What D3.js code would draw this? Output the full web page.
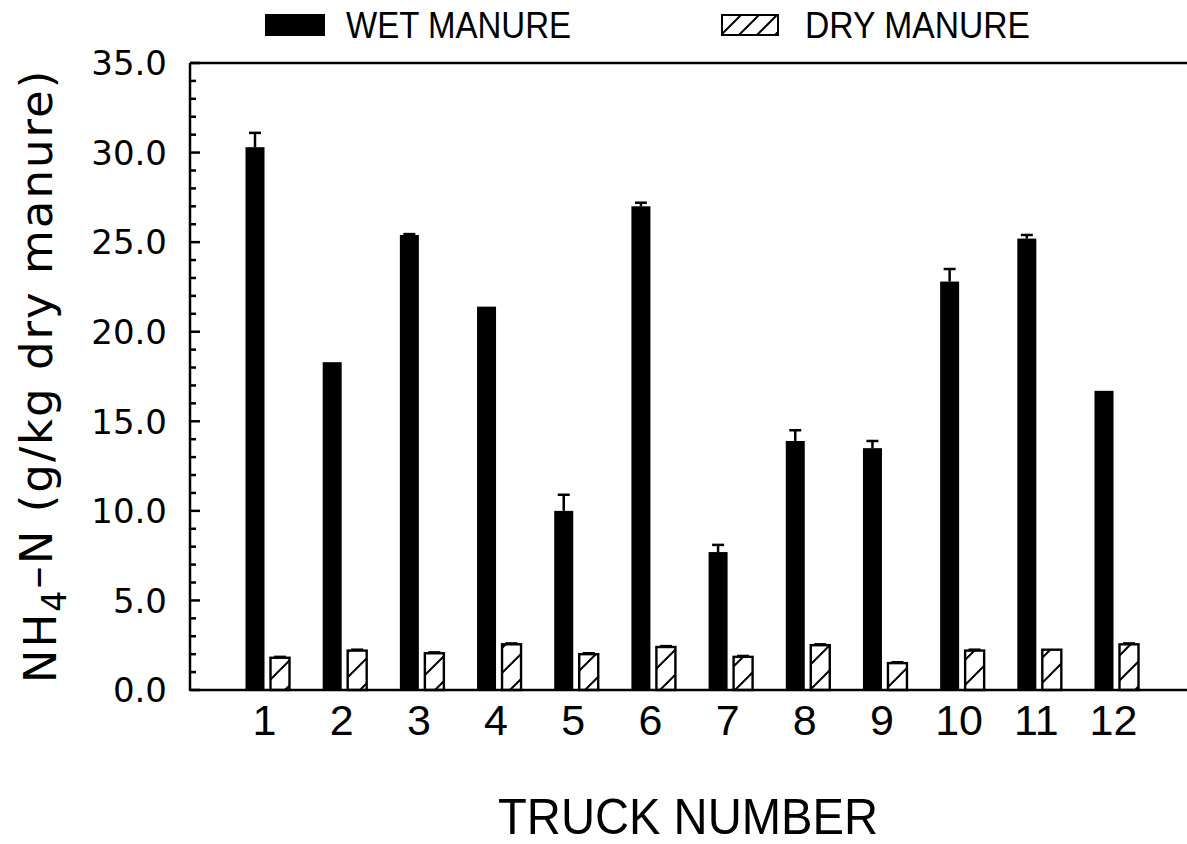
<!DOCTYPE html>
<html>
<head>
<meta charset="utf-8">
<script src="https://cdn.jsdelivr.net/npm/d3@7"></script>
<style>
    body { margin: 0; background: #ffffff; }
    svg { display: block; }
</style>
</head>
<body>
<svg id="chart" width="1187" height="844"></svg>
<script>
// Values.
var trucks = [1, 2, 3, 4, 5, 6, 7, 8, 9, 10, 11, 12];
var wetManure = [30.3, 18.3, 25.4, 21.4, 10.0, 27.0, 7.7, 13.9, 13.5, 22.8, 25.2, 16.7];
var wetError = [0.8, 0, 0.05, 0, 0.9, 0.2, 0.4, 0.6, 0.4, 0.7, 0.2, 0];
var dryManure = [1.8, 2.2, 2.05, 2.55, 2.0, 2.4, 1.85, 2.5, 1.5, 2.2, 2.25, 2.55];
var dryError = [0.05, 0.05, 0.05, 0.05, 0.05, 0.05, 0.05, 0.05, 0.05, 0.05, 0, 0.05];
var yTicks = [0, 5, 10, 15, 20, 25, 30, 35];
var seriesNames = ["WET MANURE", "DRY MANURE"];

var svg = d3.select("#chart");

// Plot frame.
var left = 190;
var right = 1187;
var top_ = 63;
var bottom = 690;

var yScale = d3.scaleLinear()
    .domain([0, 35])
    .range([bottom, top_]);

// Centre of each truck group.
var xScale = d3.scalePoint()
    .domain(trucks)
    .range([267.5, 1116.5]);

// Position of wet and dry bar inside a group.
var subScale = d3.scaleBand()
    .domain(["wet", "dry"])
    .range([-22, 22])
    .paddingInner(0.24);

// Hatch patterns for dry manure (bars and legend).
var defs = svg.append("defs");
function addHatch(id, step) {
    var pattern = defs.append("pattern")
        .attr("id", id)
        .attr("patternUnits", "userSpaceOnUse")
        .attr("width", step)
        .attr("height", step);
    pattern.append("rect")
        .attr("width", step)
        .attr("height", step)
        .attr("fill", "#ffffff");
    pattern.append("path")
        .attr("d", "M0," + step + " L" + step + ",0 M-2,2 L2,-2 M" + (step - 2) + "," + (step + 2) + " L" + (step + 2) + "," + (step - 2))
        .attr("stroke", "#000")
        .attr("stroke-width", 2);
}
addHatch("hatch", 25);
addHatch("hatch-legend", 18);

// Build rows for the bars.
var rows = trucks.map(function (t, i) {
    return {
        truck: t,
        wet: wetManure[i],
        wetErr: wetError[i],
        dry: dryManure[i],
        dryErr: dryError[i]
    };
});

// Wet manure bars.
svg.append("g")
    .selectAll("rect")
    .data(rows)
    .enter()
    .append("rect")
    .attr("x", function (d) { return xScale(d.truck) + subScale("wet"); })
    .attr("y", function (d) { return yScale(d.wet); })
    .attr("width", subScale.bandwidth())
    .attr("height", function (d) { return yScale(0) - yScale(d.wet); })
    .attr("fill", "#000");

// Dry manure bars.
svg.append("g")
    .selectAll("rect")
    .data(rows)
    .enter()
    .append("rect")
    .attr("x", function (d) { return xScale(d.truck) + subScale("dry"); })
    .attr("y", function (d) { return yScale(d.dry); })
    .attr("width", subScale.bandwidth())
    .attr("height", function (d) { return yScale(0) - yScale(d.dry); })
    .attr("fill", "url(#hatch)")
    .attr("stroke", "#000")
    .attr("stroke-width", 2.4);

// Error bars (upper only).
function drawErrors(key, errKey) {
    var g = svg.append("g")
        .attr("stroke", "#000")
        .attr("stroke-width", 2.5);
    var data = rows.filter(function (d) { return d[errKey] > 0; });
    g.selectAll("line.stem")
        .data(data)
        .enter()
        .append("line")
        .attr("x1", function (d) { return xScale(d.truck) + subScale(key) + subScale.bandwidth() / 2; })
        .attr("x2", function (d) { return xScale(d.truck) + subScale(key) + subScale.bandwidth() / 2; })
        .attr("y1", function (d) { return yScale(d[key]); })
        .attr("y2", function (d) { return yScale(d[key] + d[errKey]); });
    g.selectAll("line.cap")
        .data(data)
        .enter()
        .append("line")
        .attr("x1", function (d) { return xScale(d.truck) + subScale(key) + subScale.bandwidth() / 2 - 6; })
        .attr("x2", function (d) { return xScale(d.truck) + subScale(key) + subScale.bandwidth() / 2 + 6; })
        .attr("y1", function (d) { return yScale(d[key] + d[errKey]); })
        .attr("y2", function (d) { return yScale(d[key] + d[errKey]); });
}
drawErrors("wet", "wetErr");
drawErrors("dry", "dryErr");

// Frame lines: left axis, top border, bottom axis.
var frame = svg.append("g")
    .attr("stroke", "#000")
    .attr("stroke-width", 2.5)
    .attr("fill", "none");
frame.append("line").attr("x1", left).attr("x2", left).attr("y1", top_).attr("y2", bottom + 1);
frame.append("line").attr("x1", left).attr("x2", right).attr("y1", top_).attr("y2", top_);
frame.append("line").attr("x1", left).attr("x2", right).attr("y1", bottom).attr("y2", bottom);

// Y ticks pointing into the plot, minor every 1.0.
var minorTicks = d3.range(0, 36, 1);
svg.append("g")
    .attr("stroke", "#000")
    .attr("stroke-width", 2.5)
    .selectAll("line")
    .data(minorTicks)
    .enter()
    .append("line")
    .attr("x1", left)
    .attr("x2", function (d) { return d % 5 === 0 ? left + 10 : left + 6; })
    .attr("y1", function (d) { return yScale(d); })
    .attr("y2", function (d) { return yScale(d); });

svg.append("g")
    .selectAll("text")
    .data(yTicks)
    .enter()
    .append("text")
    .attr("x", 167)
    .attr("y", function (d) { return yScale(d); })
    .attr("dy", "0.36em")
    .attr("text-anchor", "end")
    .style("font-family", "'DejaVu Sans', sans-serif")
    .style("font-size", "34px")
    .text(function (d) { return d3.format(".1f")(d); });

// X tick labels.
svg.append("g")
    .selectAll("text")
    .data(trucks)
    .enter()
    .append("text")
    .attr("x", function (d) { return xScale(d) - 3; })
    .attr("y", 735)
    .attr("text-anchor", "middle")
    .style("font-family", "'Liberation Sans', Arial, sans-serif")
    .style("font-size", "43px")
    .text(function (d) { return d; });

// Axis titles.
svg.append("text")
    .attr("x", 688)
    .attr("y", 834)
    .attr("text-anchor", "middle")
    .attr("textLength", 380)
    .attr("lengthAdjust", "spacingAndGlyphs")
    .style("font-family", "'Liberation Sans', Arial, sans-serif")
    .style("font-size", "50px")
    .text("TRUCK NUMBER");

var yLabel = svg.append("text")
    .attr("transform", "translate(56,376) rotate(-90)")
    .attr("text-anchor", "middle")
    .style("font-family", "'DejaVu Sans', sans-serif")
    .style("font-size", "45px")
    .style("letter-spacing", "2px");
yLabel.append("tspan").text("NH");
yLabel.append("tspan").attr("dy", "0.3em").style("font-size", "33px").text("4");
yLabel.append("tspan").attr("dy", "-0.3em").text("\u2013N (g/kg dry manure)");

// Legend.
var legend = svg.append("g");
legend.append("rect")
    .attr("x", 265).attr("y", 14).attr("width", 60).attr("height", 22)
    .attr("fill", "#000");
legend.append("text")
    .attr("x", 346).attr("y", 38)
    .attr("textLength", 225)
    .attr("lengthAdjust", "spacingAndGlyphs")
    .style("font-family", "'Liberation Sans', Arial, sans-serif")
    .style("font-size", "36px")
    .text(seriesNames[0]);
legend.append("rect")
    .attr("x", 722).attr("y", 15).attr("width", 56).attr("height", 20)
    .attr("fill", "url(#hatch-legend)")
    .attr("stroke", "#000")
    .attr("stroke-width", 2);
legend.append("text")
    .attr("x", 805).attr("y", 38)
    .attr("textLength", 225)
    .attr("lengthAdjust", "spacingAndGlyphs")
    .style("font-family", "'Liberation Sans', Arial, sans-serif")
    .style("font-size", "36px")
    .text(seriesNames[1]);
</script>
</body>
</html>
